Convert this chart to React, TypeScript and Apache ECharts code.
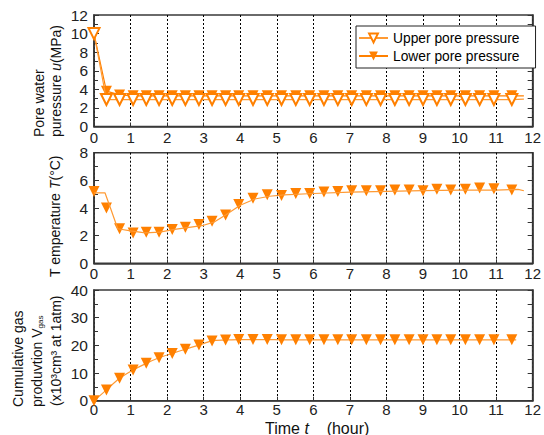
import React, { useEffect, useRef } from "react";
import * as echarts from "echarts";

// Sampling times (hours) of the plotted markers
const markTimes = [
  0, 0.34, 0.7, 1.07, 1.43, 1.78, 2.14, 2.5, 2.87, 3.23, 3.6, 3.96, 4.35, 4.74,
  5.13, 5.52, 5.9, 6.29, 6.67, 7.05, 7.45, 7.84, 8.23, 8.62, 9.0, 9.38, 9.76,
  10.16, 10.55, 10.94, 11.43,
];

// Pore water pressure u (MPa)
const upperPore = [
  10, 2.9, 2.9, 2.9, 2.9, 2.9, 2.9, 2.9, 2.9, 2.9, 2.9, 2.9, 2.9, 2.9, 2.9,
  2.9, 2.9, 2.9, 2.9, 2.9, 2.9, 2.9, 2.9, 2.9, 2.9, 2.9, 2.9, 2.9, 2.9, 2.9, 2.9,
];
const lowerPore = [
  10, 3.8, 3.4, 3.3, 3.3, 3.3, 3.3, 3.3, 3.3, 3.3, 3.3, 3.3, 3.3, 3.3, 3.3,
  3.3, 3.3, 3.3, 3.3, 3.3, 3.3, 3.3, 3.3, 3.3, 3.3, 3.3, 3.3, 3.3, 3.3, 3.3, 3.3,
];
const poreEnd = { t: 11.76, upper: 2.95, lower: 3.3 };

// Temperature T (°C)
const tempMarks = [
  5.2, 4.0, 2.5, 2.2, 2.25, 2.25, 2.45, 2.6, 2.8, 3.05, 3.5, 4.25, 4.7, 4.95,
  4.9, 5.05, 5.05, 5.15, 5.2, 5.25, 5.25, 5.25, 5.3, 5.3, 5.25, 5.35, 5.3, 5.35,
  5.45, 5.4, 5.3,
];
const tempTraceT = [
  0, 0.3, 0.45, 0.65, 1.0, 1.4, 1.8, 2.2, 2.6, 3.0, 3.3, 3.6, 4.0, 4.4, 4.8,
  5.2, 6.0, 7.0, 8.0, 9.0, 10.0, 11.0, 11.6, 11.76,
];
const tempTraceV = [
  5.1, 5.1, 4.0, 2.5, 2.35, 2.2, 2.25, 2.45, 2.6, 2.75, 3.0, 3.5, 4.2, 4.65,
  4.85, 4.95, 5.05, 5.15, 5.2, 5.25, 5.3, 5.3, 5.35, 5.25,
];

// Cumulative gas production (x10^3 cm^3 at 1 atm)
const gasMarks = [
  0, 3.9, 8.1, 11.1, 13.5, 15.5, 17.1, 18.6, 20.1, 21.6, 21.9, 22.1, 22.1, 22.1,
  22.0, 22.0, 22.0, 22.0, 22.0, 22.0, 22.0, 22.0, 22.0, 22.0, 22.0, 22.0, 22.0,
  22.0, 22.0, 22.0, 22.0,
];
const gasEnd = { t: 11.55, v: 22.0 };

const xTicks = [0, 1, 2, 3, 4, 5, 6, 7, 8, 9, 10, 11, 12];

const ORANGE = "#ff8000";
const LINE_ORANGE = "#ff9a33";
const FONT = "'Liberation Sans', Arial, sans-serif";

const pairs = (ts: number[], vs: number[]) => ts.map((t, i) => [t, vs[i]]);

export default function App() {
  const ref = useRef<HTMLDivElement>(null);

  useEffect(() => {
    if (!ref.current) return;
    const chart = echarts.init(ref.current, null, { renderer: "svg" });

    const grids = [
      { left: 94, top: 15, width: 443, height: 111.5 },
      { left: 94, top: 152.7, width: 443, height: 110.6 },
      { left: 94, top: 290, width: 443, height: 110.7 },
    ].map((g) => ({
      ...g,
      show: true,
      borderColor: "#3a3a3a",
      borderWidth: 1.6,
      backgroundColor: "transparent",
    }));

    const xAxis = [0, 1, 2].map((i) => ({
      type: "value",
      gridIndex: i,
      min: 0,
      max: 12,
      interval: 1,
      axisLine: { show: true, lineStyle: { color: "#3a3a3a", width: 1.6 } },
      axisTick: { show: true, inside: true, length: 4, lineStyle: { color: "#333" } },
      splitLine: {
        show: true,
        lineStyle: { color: "#000", type: [2, 2], width: 1 },
      },
      axisLabel: {
        color: "#222",
        fontSize: 15,
        fontFamily: FONT,
        margin: i === 2 ? 1 : 3,
        formatter: (v: number) => (xTicks.includes(v) ? String(v) : ""),
      },
    }));

    const yRanges = [
      { max: 12, interval: 2 },
      { max: 8, interval: 2 },
      { max: 40, interval: 10 },
    ];
    const yAxis: any[] = [];
    yRanges.forEach((r, i) => {
      yAxis.push({
        type: "value",
        gridIndex: i,
        min: 0,
        max: r.max,
        interval: r.interval,
        position: "left",
        axisLine: { show: true, lineStyle: { color: "#3a3a3a", width: 1.6 } },
        axisTick: { show: true, inside: true, length: 5, lineStyle: { color: "#333" } },
        minorTick: { show: true, splitNumber: 2, length: 4, lineStyle: { color: "#333" } },
        splitLine: { show: false },
        axisLabel: { color: "#222", fontSize: 15.5, fontFamily: FONT, margin: 6 },
      });
      yAxis.push({
        type: "value",
        gridIndex: i,
        min: 0,
        max: r.max,
        interval: r.interval / 2,
        position: "right",
        axisLine: { show: true, lineStyle: { color: "#3a3a3a", width: 1.6 } },
        axisTick: { show: true, inside: true, length: 5, lineStyle: { color: "#333" } },
        splitLine: { show: false },
        axisLabel: { show: false },
      });
    });

    const triDown = { symbolRotate: 180, symbolSize: 11 };

    const series: any[] = [
      {
        name: "Lower pore pressure",
        type: "line",
        xAxisIndex: 0,
        yAxisIndex: 0,
        symbol: "triangle",
        ...triDown,
        showAllSymbol: true,
        itemStyle: { color: ORANGE },
        lineStyle: { color: ORANGE, width: 1.2 },
        data: [
          ...pairs(markTimes, lowerPore),
          { value: [poreEnd.t, poreEnd.lower], symbol: "none" },
        ],
        z: 2,
      },
      {
        name: "Upper pore pressure",
        type: "line",
        xAxisIndex: 0,
        yAxisIndex: 0,
        symbol: "emptyTriangle",
        ...triDown,
        showAllSymbol: true,
        itemStyle: { color: ORANGE, borderColor: ORANGE, borderWidth: 1.2 },
        lineStyle: { color: LINE_ORANGE, width: 1.2 },
        data: [
          ...pairs(markTimes, upperPore),
          { value: [poreEnd.t, poreEnd.upper], symbol: "none" },
        ],
        z: 3,
      },
      {
        name: "temperature trace",
        type: "line",
        xAxisIndex: 1,
        yAxisIndex: 2,
        showSymbol: false,
        lineStyle: { color: LINE_ORANGE, width: 1.2 },
        data: pairs(tempTraceT, tempTraceV),
      },
      {
        name: "temperature",
        type: "scatter",
        xAxisIndex: 1,
        yAxisIndex: 2,
        symbol: "triangle",
        ...triDown,
        itemStyle: { color: ORANGE, opacity: 1 },
        data: pairs(markTimes, tempMarks),
      },
      {
        name: "gas production",
        type: "line",
        xAxisIndex: 2,
        yAxisIndex: 4,
        symbol: "triangle",
        ...triDown,
        showAllSymbol: true,
        smooth: 0.3,
        itemStyle: { color: ORANGE },
        lineStyle: { color: LINE_ORANGE, width: 1.2 },
        data: [
          ...pairs(markTimes, gasMarks),
          { value: [gasEnd.t, gasEnd.v], symbol: "none" },
        ],
      },
    ];

    const titleStyle = { fontSize: 14, fontFamily: FONT, fill: "#111" };
    const vText = (x: number, y: number, text: string, rich?: any) => ({
      type: "text",
      x,
      y,
      rotation: Math.PI / 2,
      style: {
        ...titleStyle,
        text,
        align: "left",
        verticalAlign: "middle",
        rich,
      },
    });
    const richBase = {
      i: { fontSize: 14, fontFamily: FONT, fontStyle: "italic", fill: "#111" },
      n: { fontSize: 14, fontFamily: FONT, fill: "#111" },
      sub: { fontSize: 8, fontFamily: FONT, fill: "#111", padding: [6, 0, 0, 0] },
    };

    const graphic = [
      vText(39, 137, "Pore water"),
      vText(56, 137, "{n|puressure }{i|u}{n|(MPa)}", richBase),
      vText(55, 277, "{n|T emperature }{i|T}{n|(°C)}", richBase),
      vText(18, 407, "Cumulative gas"),
      vText(37, 407, "{n|produvtion V}{sub|gas}", richBase),
      vText(56, 406, "(x10³cm³ at 1atm)"),
      {
        type: "text",
        x: 265,
        y: 428,
        style: {
          text: "{n|Time }{i|t}{n|    (hour)}",
          align: "left",
          verticalAlign: "middle",
          rich: {
            n: { fontSize: 16, fontFamily: FONT, fill: "#111" },
            i: { fontSize: 16, fontFamily: FONT, fontStyle: "italic", fill: "#111" },
          },
        },
      },
    ];

    chart.setOption({
      animation: false,
      backgroundColor: "#fff",
      grid: grids,
      xAxis,
      yAxis,
      series,
      graphic,
      legend: {
        data: ["Upper pore pressure", "Lower pore pressure"],
        orient: "vertical",
        left: 356,
        top: 26,
        itemWidth: 29,
        itemHeight: 11,
        itemGap: 4,
        padding: [5, 16, 5, 2],
        borderColor: "#222",
        borderWidth: 1,
        backgroundColor: "#fff",
        textStyle: { fontSize: 13.8, color: "#000", fontFamily: FONT },
      },
    });

    return () => chart.dispose();
  }, []);

  return (
    <div
      ref={ref}
      style={{
        position: "fixed",
        left: 0,
        top: 0,
        width: 544,
        height: 435,
        background: "#fff",
      }}
    />
  );
}
